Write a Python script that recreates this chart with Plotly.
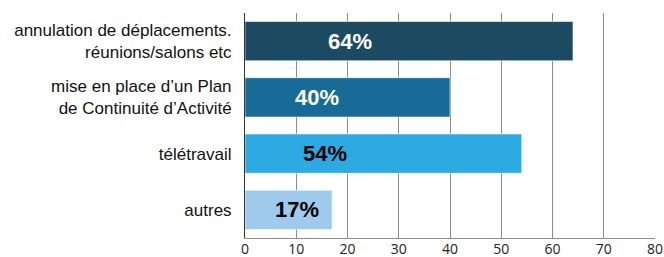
import plotly.graph_objects as go

categories = ["annulation de déplacements.<br>réunions/salons etc",
              "mise en place d’un Plan<br>de Continuité d’Activité",
              "télétravail",
              "autres"]
values = [64, 40, 54, 17]
value_labels = ["64%", "40%", "54%", "17%"]
bar_colors = ["#1b4a62", "#186b96", "#2eaae2", "#9ecbec"]
label_colors = ["white", "white", "black", "black"]
label_x = [20.5, 14, 15.6, 10.1]

fig = go.Figure()
fig.add_trace(go.Bar(
    y=categories, x=values, orientation="h",
    marker=dict(color=bar_colors, line=dict(color="rgba(255,255,255,0.6)", width=1)),
    hoverinfo="skip",
))
for c, lab, col, lx in zip(categories, value_labels, label_colors, label_x):
    fig.add_annotation(x=lx, y=c, text=f"<b>{lab}</b>", showarrow=False,
                       font=dict(family="Liberation Sans, Arial, sans-serif", size=22, color=col))

fig.update_layout(
    width=664, height=257,
    margin=dict(l=245, r=9, t=13, b=19),
    plot_bgcolor="white", paper_bgcolor="white",
    bargap=0.3, showlegend=False,
)
fig.update_xaxes(range=[0, 80], dtick=10, showgrid=True, gridcolor="#8c8c8c", gridwidth=1,
                 showline=True, linecolor="#8c8c8c", zeroline=False, automargin=False,
                 ticklabelstandoff=-2,
                 tickfont=dict(family="Open Sans, sans-serif", size=14, color="#222"),
                 ticks="", fixedrange=True)
fig.update_yaxes(autorange="reversed", showline=True, linecolor="#333", linewidth=1,
                 automargin=False, ticklabelstandoff=9,
                 tickfont=dict(family="Liberation Sans, Arial, sans-serif", size=17, color="#111"),
                 fixedrange=True)
fig.write_html("out.html", config={"displayModeBar": False},
               post_script="document.body.style.margin='0';document.body.style.overflow='hidden';")
